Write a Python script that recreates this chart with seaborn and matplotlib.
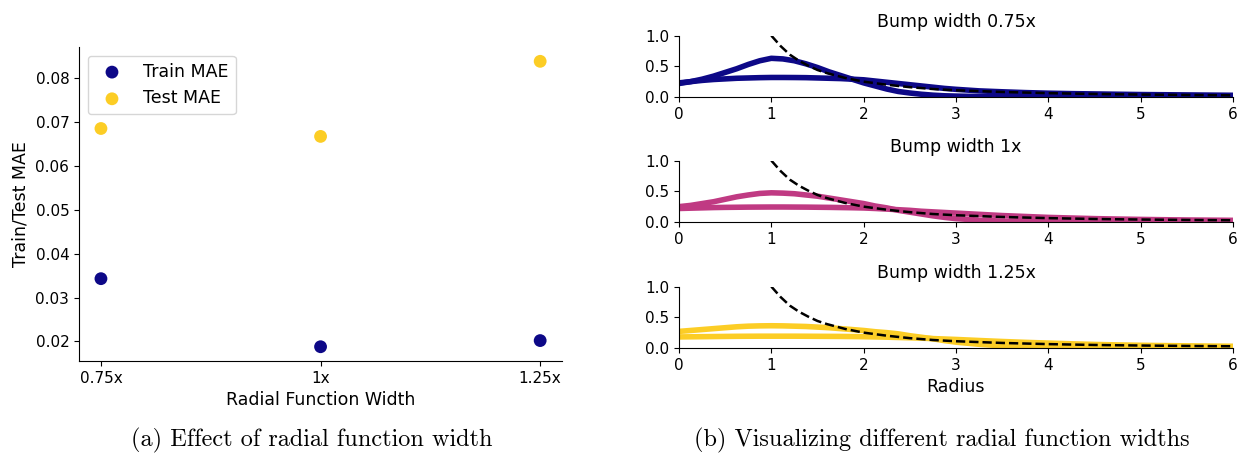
import numpy as np
import pandas as pd
import matplotlib
matplotlib.use("Agg")
import matplotlib.pyplot as plt
import seaborn as sns

sns.set_style("ticks")
plt.rcParams['font.family'] = ['DejaVu Sans']
for key in ['text.color', 'axes.labelcolor', 'xtick.color', 'ytick.color', 'axes.edgecolor']:
    plt.rcParams[key] = 'black'

# --- (a) MAE vs radial function width ---
widths = ["0.75x", "1x", "1.25x"]
train_mae = [0.0343, 0.0188, 0.0202]
test_mae = [0.0685, 0.0667, 0.0838]

# --- (b) radial functions ---
radius = [0.0, 0.125, 0.25, 0.375, 0.5, 0.625, 0.75, 0.875, 1.0, 1.125, 1.25, 1.375,
          1.5, 1.625, 1.75, 1.875, 2.0, 2.125, 2.25, 2.375, 2.5, 2.625, 2.75, 2.875,
          3.0, 3.25, 3.5, 3.75, 4.0, 4.25, 4.5, 4.75, 5.0, 5.25, 5.5, 5.75, 6.0]
bump_075 = [0.22, 0.25, 0.29, 0.34, 0.40, 0.46, 0.53, 0.59, 0.63, 0.62, 0.59, 0.54,
            0.48, 0.41, 0.35, 0.29, 0.23, 0.18, 0.13, 0.09, 0.065, 0.045, 0.03, 0.02,
            0.015, 0.008, 0.004, 0.002, 0.001, 0.0, 0.0, 0.0, 0.0, 0.0, 0.0, 0.0, 0.0]
flat_075 = [0.23, 0.25, 0.27, 0.285, 0.295, 0.305, 0.31, 0.315, 0.318, 0.318, 0.317, 0.315,
            0.31, 0.305, 0.30, 0.29, 0.28, 0.26, 0.24, 0.22, 0.20, 0.18, 0.16, 0.14,
            0.125, 0.10, 0.085, 0.072, 0.062, 0.055, 0.05, 0.045, 0.04, 0.037, 0.034, 0.031, 0.028]
bump_1 = [0.25, 0.27, 0.30, 0.33, 0.37, 0.41, 0.44, 0.465, 0.475, 0.47, 0.46, 0.44,
          0.42, 0.39, 0.36, 0.33, 0.30, 0.26, 0.23, 0.19, 0.16, 0.13, 0.10, 0.075,
          0.055, 0.03, 0.015, 0.008, 0.004, 0.002, 0.0, 0.0, 0.0, 0.0, 0.0, 0.0, 0.0]
flat_1 = [0.22, 0.225, 0.23, 0.235, 0.238, 0.24, 0.242, 0.243, 0.244, 0.244, 0.243, 0.242,
          0.24, 0.238, 0.235, 0.232, 0.228, 0.22, 0.21, 0.20, 0.19, 0.175, 0.165, 0.155,
          0.145, 0.125, 0.105, 0.09, 0.075, 0.065, 0.055, 0.048, 0.042, 0.037, 0.033, 0.03, 0.027]
bump_125 = [0.27, 0.285, 0.30, 0.315, 0.33, 0.345, 0.355, 0.36, 0.362, 0.36, 0.355, 0.35,
            0.34, 0.33, 0.315, 0.30, 0.285, 0.265, 0.25, 0.23, 0.20, 0.175, 0.15, 0.12,
            0.095, 0.06, 0.035, 0.02, 0.012, 0.007, 0.004, 0.002, 0.001, 0.0, 0.0, 0.0, 0.0]
flat_125 = [0.18, 0.182, 0.184, 0.186, 0.188, 0.19, 0.191, 0.192, 0.192, 0.192, 0.192, 0.191,
            0.19, 0.189, 0.188, 0.186, 0.184, 0.18, 0.176, 0.171, 0.166, 0.16, 0.153, 0.146,
            0.139, 0.122, 0.106, 0.092, 0.08, 0.068, 0.058, 0.05, 0.044, 0.039, 0.035, 0.031, 0.028]

# dashed reference curve
ref_radius = [1.0, 1.1, 1.2, 1.3, 1.4, 1.5, 1.6, 1.7, 1.8, 1.9, 2.0, 2.25, 2.5, 2.75, 3.0,
              3.5, 4.0, 4.5, 5.0, 5.5, 6.0]
ref_value = [1.0, 0.83, 0.69, 0.59, 0.51, 0.44, 0.39, 0.35, 0.31, 0.28, 0.25, 0.20, 0.16,
             0.13, 0.11, 0.082, 0.063, 0.049, 0.04, 0.033, 0.028]

navy = "#0d0887"
magenta = "#c03a83"
yellow = "#fccd25"

panels = [("Bump width 0.75x", bump_075, flat_075, navy),
          ("Bump width 1x", bump_1, flat_1, magenta),
          ("Bump width 1.25x", bump_125, flat_125, yellow)]

fig = plt.figure(figsize=(12.42, 4.55), dpi=100)

# 左のパネル
ax = fig.add_axes([0.0636, 0.2066, 0.389, 0.690])
pos = list(range(len(widths)))
sns.scatterplot(x=pos, y=train_mae, color=navy, s=85, edgecolor="none", label="Train MAE", ax=ax)
sns.scatterplot(x=pos, y=test_mae, color=yellow, s=85, edgecolor="none", label="Test MAE", ax=ax)
ax.set_xticks(pos, widths)
ax.set_xlabel("Radial Function Width", fontsize=12.5)
ax.set_ylabel("Train/Test MAE", fontsize=12.5)
ax.tick_params(labelsize=11)
ax.legend(loc="upper left", fontsize=12.5, frameon=True)
sns.despine(ax=ax)

# 右のパネル
bottoms = [0.7868, 0.5121, 0.2352]
for (title, bump, flat, col), b in zip(panels, bottoms):
    axr = fig.add_axes([0.5467, b, 0.446, 0.135])
    sns.lineplot(x=radius, y=flat, color=col, lw=4, ax=axr)
    sns.lineplot(x=radius, y=bump, color=col, lw=4, ax=axr)
    sns.lineplot(x=ref_radius, y=ref_value, color="black", lw=1.8, ls="--", ax=axr)
    axr.set_xlim(0, 6)
    axr.set_ylim(0, 1)
    axr.set_yticks([0.0, 0.5, 1.0])
    axr.set_xticks(range(7))
    axr.set_title(title, fontsize=12.5)
    axr.tick_params(labelsize=11)
    sns.despine(ax=axr)
axr.set_xlabel("Radius", fontsize=12.5)

fig.text(0.251, 0.033, "(a) Effect of radial function width", family="cmr10",
         fontsize=17.5, ha="center", va="center")
fig.text(0.758, 0.033, "(b) Visualizing different radial function widths", family="cmr10",
         fontsize=17.5, ha="center", va="center")

fig.savefig("out.png", dpi=100)
